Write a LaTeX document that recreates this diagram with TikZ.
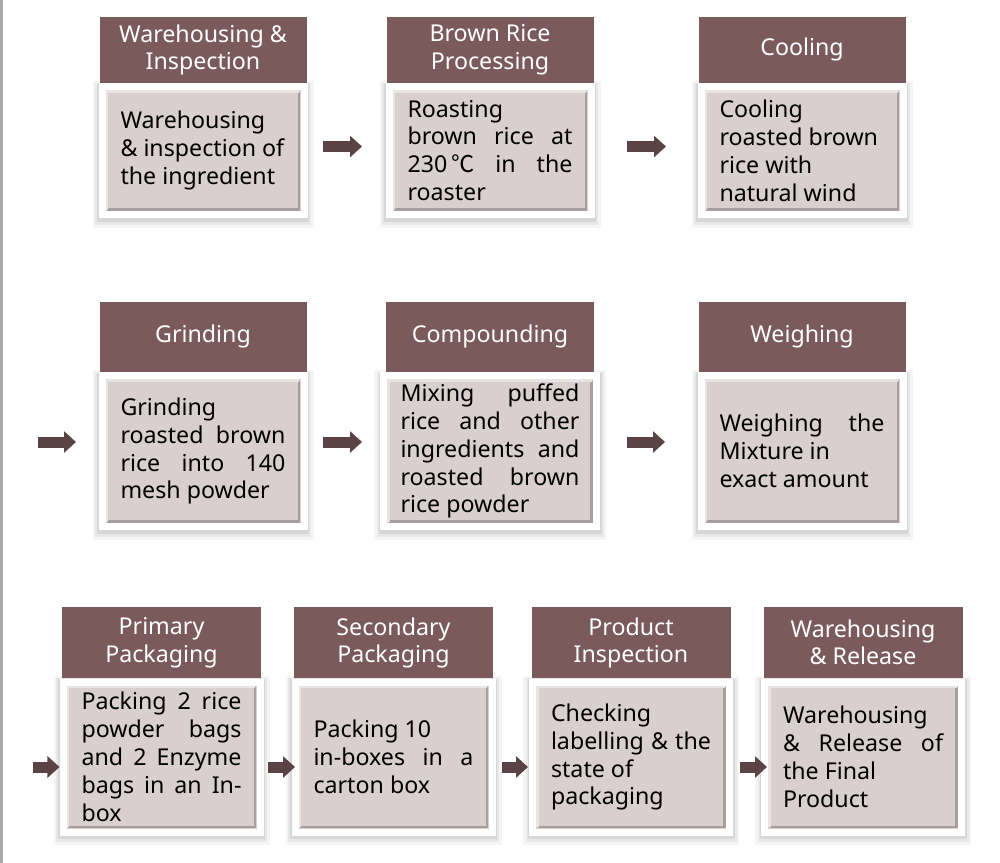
\documentclass[tikz,border=0pt]{standalone}
\usepackage{fontspec}
\setmainfont{Noto Sans}
\newfontfamily\rpcjk{Noto Sans CJK KR}
\usetikzlibrary{
  arrows.meta,
  positioning
}
\definecolor{rpHead}{HTML}{7B5A5C}
\definecolor{rpBody}{HTML}{D9CFCF}
\definecolor{rpEdge}{HTML}{A99D9D}
\definecolor{rpLight}{HTML}{EAE3E3}
\definecolor{rpArrow}{HTML}{5A4345}
\definecolor{rpRule}{HTML}{A8A8A8}
\tikzset{
  rphead/.style={
    fill=rpHead, text=white, minimum width=4.14cm, minimum height=1.36cm,
    inner sep=0pt, align=center, font=\fontsize{13.2}{15.5}\selectfont
  },
  rpbody/.style={
    preaction={draw=black, draw opacity=0.04, line width=0.38cm, transform canvas={yshift=-0.07cm}},
    preaction={draw=black, draw opacity=0.05, line width=0.28cm, transform canvas={yshift=-0.06cm}},
    preaction={draw=black, draw opacity=0.07, line width=0.2cm, transform canvas={yshift=-0.04cm}},
    fill=rpBody, draw=white, line width=0.14cm, text width=3.3cm,
    inner xsep=0.37cm, inner ysep=0.15cm, minimum width=4.04cm,
    align=justify, text=black, font=\fontsize{13.2}{15.9}\selectfont,
    path picture={
      \draw[rpEdge, line width=0.05cm]
        ([shift={(0.1cm,0.1cm)}]path picture bounding box.south west) -|
        ([shift={(-0.1cm,-0.1cm)}]path picture bounding box.north east);
      \draw[rpLight, line width=0.05cm]
        ([shift={(0.1cm,0.1cm)}]path picture bounding box.south west) |-
        ([shift={(-0.1cm,-0.1cm)}]path picture bounding box.north east);
    }
  },
  rprow/.style={text width=3.2cm, minimum width=3.94cm},
  rpflow/.style={-{Triangle[length=0.24cm, width=0.42cm]}, line width=0.22cm, rpArrow}
}

\begin{document}
\begin{tikzpicture}
  \fill[white] (0,0) rectangle (20,-17.26);
  \fill[rpRule] (0,0) rectangle (0.06,-17.26);

  \node[rpbody, minimum height=2.56cm] (b1) at (4.06,-3.01) {Warehousing\\ \& inspection of\\ the ingredient};
  \node[rphead, minimum height=1.32cm, above=0pt of b1] (h1) {Warehousing \&\\ Inspection};
  \node[rpbody, minimum height=2.56cm] (b2) at (9.80,-3.01) {Roasting\\ brown rice at\linebreak 230\,{\rpcjk ℃} in the\linebreak roaster};
  \node[rphead, minimum height=1.32cm, above=0pt of b2] (h2) {Brown Rice\\ Processing};
  \node[rpbody, minimum height=2.56cm] (b3) at (16.04,-3.01) {Cooling\\ roasted brown\\ rice with\\ natural wind};
  \node[rphead, minimum height=1.32cm, above=0pt of b3] (h3) {Cooling};

  \node[rpbody, minimum height=3.02cm] (b4) at (4.06,-9.02) {Grinding\\ roasted brown\linebreak rice into 140\linebreak mesh powder};
  \node[rphead, minimum height=1.40cm, above=0pt of b4] (h4) {Grinding};
  \node[rpbody, minimum height=3.02cm, text width=3.58cm, inner xsep=0.34cm] (b5) at (9.80,-9.02) {Mixing puffed\linebreak rice and other\linebreak ingredients and\linebreak roasted brown\linebreak rice powder};
  \node[rphead, minimum height=1.40cm, minimum width=4.16cm, above=0pt of b5] (h5) {Compounding};
  \node[rpbody, minimum height=3.02cm] (b6) at (16.04,-9.02) {Weighing the\linebreak Mixture in\\ exact amount};
  \node[rphead, minimum height=1.40cm, above=0pt of b6] (h6) {Weighing};

  \node[rpbody, rprow, minimum height=3.0cm] (b7) at (3.23,-15.14) {Packing 2 rice\linebreak powder bags\linebreak and 2 Enzyme\linebreak bags in an In-\linebreak box};
  \node[rphead, minimum height=1.42cm, minimum width=3.98cm, above=0pt of b7] (h7) {Primary\\ Packaging};
  \node[rpbody, rprow, minimum height=3.0cm] (b8) at (7.87,-15.14) {Packing 10\\ in-boxes in a\linebreak carton box};
  \node[rphead, minimum height=1.42cm, minimum width=3.98cm, above=0pt of b8] (h8) {Secondary\\ Packaging};
  \node[rpbody, rprow, minimum height=3.0cm] (b9) at (12.62,-15.14) {Checking\\ labelling \& the\linebreak state of\\ packaging};
  \node[rphead, minimum height=1.42cm, minimum width=3.98cm, above=0pt of b9] (h9) {Product\\ Inspection};
  \node[rpbody, rprow, minimum height=3.0cm] (b10) at (17.26,-15.14) {Warehousing\\ \& Release of\linebreak the Final\\ Product};
  \node[rphead, minimum height=1.42cm, minimum width=3.98cm, above=0pt of b10] (h10) {Warehousing\\ \& Release};

  \coordinate (in4) at (0.76,-8.84);
  \coordinate (in7) at (0.66,-15.34);

  \draw[rpflow, shorten <=0.3cm, shorten >=0.47cm] ([yshift=0.08cm]b1.east) -- ([yshift=0.08cm]b2.west);
  \draw[rpflow, shorten <=0.65cm, shorten >=0.63cm] ([yshift=0.08cm]b2.east) -- ([yshift=0.08cm]b3.west);
  \draw[rpflow, shorten >=0.45cm] (in4) -- (b4.west |- in4);
  \draw[rpflow, shorten <=0.31cm, shorten >=0.36cm] ([yshift=0.18cm]b4.east) -- ([yshift=0.18cm]b5.west);
  \draw[rpflow, shorten <=0.54cm, shorten >=0.65cm] ([yshift=0.18cm]b5.east) -- ([yshift=0.18cm]b6.west);
  \draw[rpflow] (in7) -- (b7.west |- in7);
  \draw[rpflow, shorten <=0.09cm, shorten >=-0.07cm] ([yshift=-0.2cm]b7.east) -- ([yshift=-0.2cm]b8.west);
  \draw[rpflow, shorten <=0.13cm, shorten >=0.02cm] ([yshift=-0.2cm]b8.east) -- ([yshift=-0.2cm]b9.west);
  \draw[rpflow, shorten <=0.14cm, shorten >=-0.12cm] ([yshift=-0.2cm]b9.east) -- ([yshift=-0.2cm]b10.west);
\end{tikzpicture}
\end{document}
